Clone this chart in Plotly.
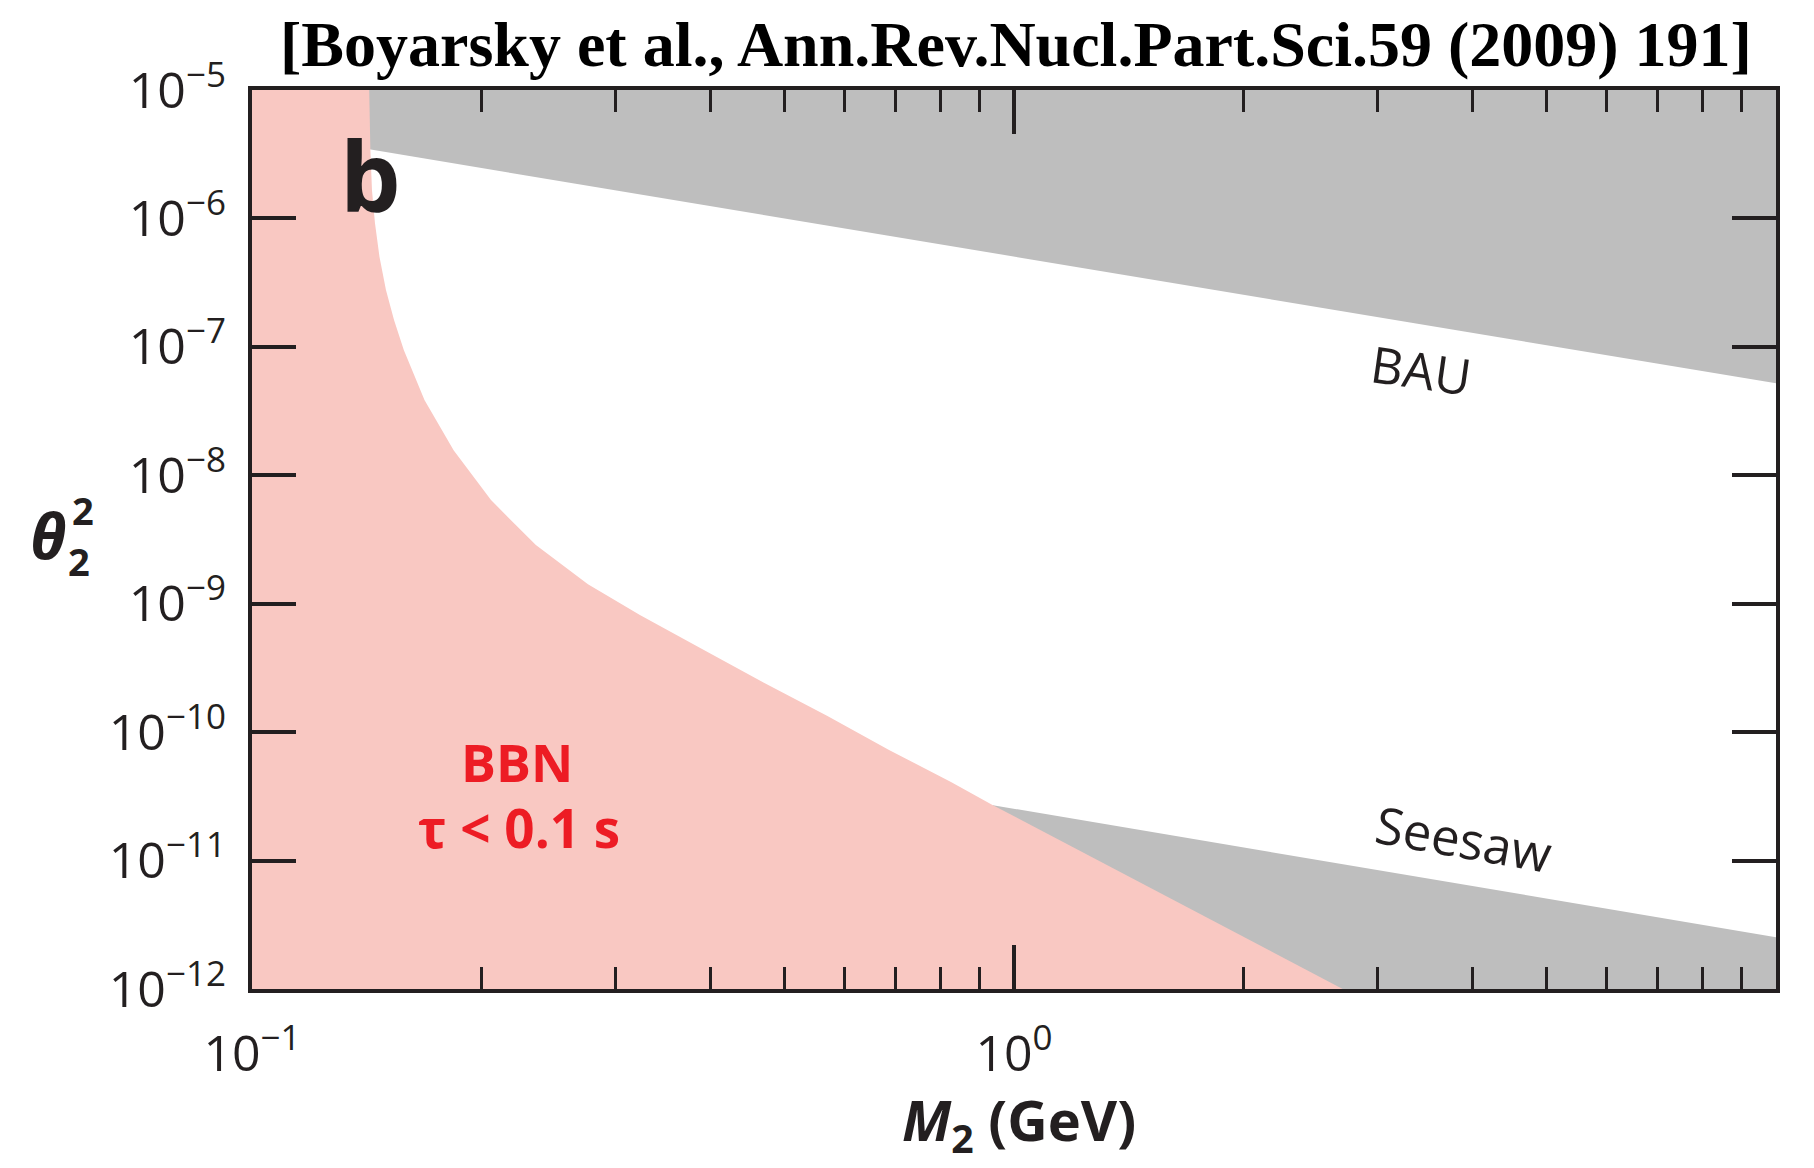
import plotly.graph_objects as go

# ---- data: sterile-neutrino mass M2 (GeV) vs mixing theta2^2 ----
# BBN exclusion boundary (tau < 0.1 s): region to the left / below is excluded
bbn_mass = [0.1425, 0.1430, 0.1437, 0.1450, 0.1470, 0.1499, 0.1536, 0.1582,
            0.1684, 0.1839, 0.2059, 0.2358, 0.2760, 0.3229, 0.3896, 0.4697,
            0.5683, 0.6855, 0.8266, 0.9384, 2.70]
bbn_theta2 = [1e-5, 3.41e-6, 1.66e-6, 9.2e-7, 5.0e-7, 2.77e-7, 1.62e-7, 9.44e-8,
              3.85e-8, 1.57e-8, 6.41e-9, 2.86e-9, 1.42e-9, 8.15e-10, 4.44e-10, 2.42e-10,
              1.34e-10, 7.27e-11, 4.09e-11, 2.70e-11, 1e-12]

# Baryon asymmetry (BAU) upper bound: straight line in log-log
bau_mass = [0.1, 10.0]
bau_theta2 = [4.9e-6, 5.2e-8]

# Seesaw lower bound
seesaw_mass = [0.9384, 10.0]
seesaw_theta2 = [2.70e-11, 2.53e-12]

x_range = [0.1, 10.0]
y_range = [1e-12, 1e-5]
x_major = [0.1, 1, 10]
x_major_text = ["10<sup>−1</sup>", "10<sup>0</sup>", "10<sup>1</sup>"]
x_minor = [0.2, 0.3, 0.4, 0.5, 0.6, 0.7, 0.8, 0.9, 2, 3, 4, 5, 6, 7, 8, 9]
y_major = [1e-12, 1e-11, 1e-10, 1e-9, 1e-8, 1e-7, 1e-6, 1e-5]
y_major_text = ["10<sup>−12</sup>", "10<sup>−11</sup>", "10<sup>−10</sup>", "10<sup>−9</sup>",
                "10<sup>−8</sup>", "10<sup>−7</sup>", "10<sup>−6</sup>", "10<sup>−5</sup>"]

GRAY = "#bebebe"
PINK = "#f9c8c2"
INK = "#231f20"
RED = "#ed1c24"
FONT = "Open Sans"

fig = go.Figure()

# BAU excluded band (above the line)
fig.add_trace(go.Scatter(
    x=[x_range[0]] + bau_mass + [x_range[1]],
    y=[y_range[1]] + bau_theta2 + [y_range[1]],
    fill="toself", fillcolor=GRAY, line=dict(width=0), mode="lines",
    hoverinfo="skip", showlegend=False))

# Seesaw excluded band (below the line)
fig.add_trace(go.Scatter(
    x=seesaw_mass + [seesaw_mass[1], seesaw_mass[0]],
    y=seesaw_theta2 + [y_range[0], y_range[0]],
    fill="toself", fillcolor=GRAY, line=dict(width=0), mode="lines",
    hoverinfo="skip", showlegend=False))

# BBN excluded region
fig.add_trace(go.Scatter(
    x=[x_range[0], x_range[0]] + bbn_mass,
    y=[y_range[0], y_range[1]] + bbn_theta2,
    fill="toself", fillcolor=PINK, line=dict(width=0), mode="lines",
    hoverinfo="skip", showlegend=False))

axis_common = dict(
    showline=True, linecolor=INK, linewidth=4, mirror="ticks",
    ticks="inside", tickcolor=INK, tickwidth=4, ticklen=44,
    showgrid=False, zeroline=False,
    tickfont=dict(family=FONT, size=50, color=INK),
)

fig.update_xaxes(type="log", range=[-1, 1], tickvals=x_major, ticktext=x_major_text,
                 ticklabelstandoff=18,
                 minor=dict(tickvals=x_minor, ticks="inside", ticklen=22,
                            tickwidth=3, tickcolor=INK, showgrid=False),
                 **axis_common)
fig.update_yaxes(type="log", range=[-12, -5], tickvals=y_major, ticktext=y_major_text,
                 ticklabelstandoff=12, **axis_common)

ann = []
# panel letter
ann.append(dict(x=-0.845, y=-5.66, xref="x", yref="y", text="<b>b</b>", showarrow=False,
                font=dict(family=FONT, size=96, color=INK)))
# region labels
ann.append(dict(x=-0.652, y=-10.226, xref="x", yref="y", text="<b>BBN</b>", showarrow=False,
                font=dict(family=FONT, size=52, color=RED)))
ann.append(dict(x=-0.650, y=-10.74, xref="x", yref="y", text="<b>τ < 0.1 s</b>", showarrow=False,
                font=dict(family=FONT, size=53, color=RED)))
ann.append(dict(x=0.534, y=-7.18, xref="x", yref="y", text="BAU", showarrow=False, textangle=8,
                font=dict(family=FONT, size=50, color=INK)))
ann.append(dict(x=0.590, y=-10.826, xref="x", yref="y", text="Seesaw", showarrow=False, textangle=10,
                font=dict(family=FONT, size=51, color=INK)))
# reference title
ann.append(dict(x=0.501, y=1.051, xref="paper", yref="paper",
                text="<b>[Boyarsky et al., Ann.Rev.Nucl.Part.Sci.59 (2009) 191]</b>",
                showarrow=False, xanchor="center", yanchor="middle",
                font=dict(family="Liberation Serif", size=64, color="black")))
# axis titles
ann.append(dict(x=0.503, y=-0.148, xref="paper", yref="paper",
                text="<b><i>M</i><sub>2</sub> (GeV)</b>", showarrow=False,
                xanchor="center", yanchor="middle",
                font=dict(family=FONT, size=56, color=INK)))
ann.append(dict(x=-0.1339, y=0.505, xref="paper", yref="paper", text="<b><i>θ</i></b>",
                showarrow=False, xanchor="center", yanchor="middle",
                font=dict(family=FONT, size=62, color=INK)))
ann.append(dict(x=-0.1109, y=0.533, xref="paper", yref="paper", text="<b>2</b>",
                showarrow=False, xanchor="center", yanchor="middle",
                font=dict(family=FONT, size=38, color=INK)))
ann.append(dict(x=-0.1135, y=0.476, xref="paper", yref="paper", text="<b>2</b>",
                showarrow=False, xanchor="center", yanchor="middle",
                font=dict(family=FONT, size=38, color=INK)))

fig.update_layout(
    width=1814, height=1168,
    margin=dict(l=252, r=38, t=90, b=179),
    paper_bgcolor="white", plot_bgcolor="white",
    annotations=ann, showlegend=False,
)

fig.write_html("out.html")
